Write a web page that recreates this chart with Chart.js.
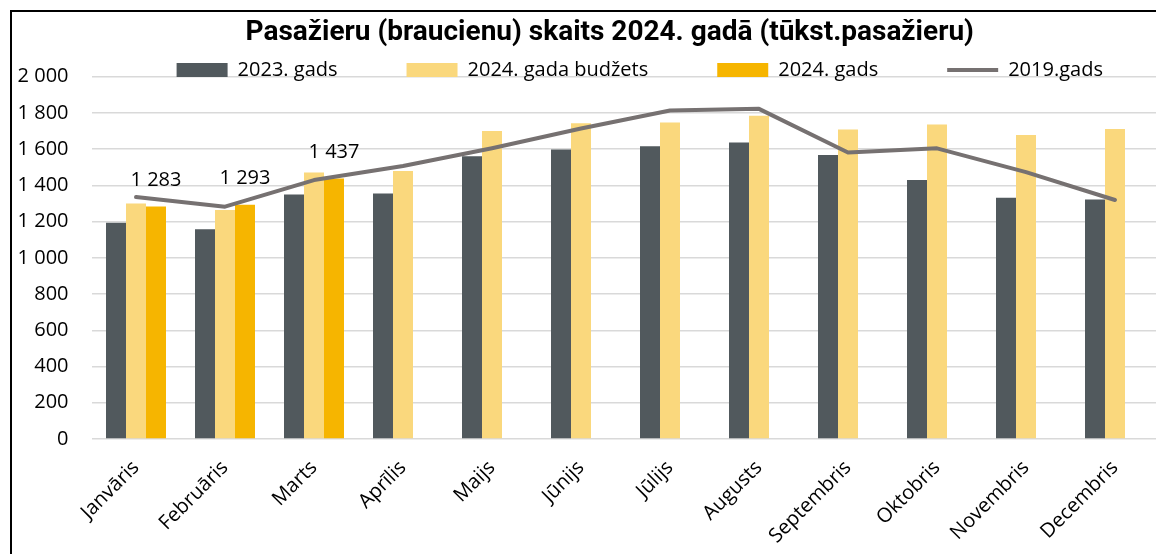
<!DOCTYPE html>
<html>
<head>
<meta charset="utf-8">
<script src="https://cdn.jsdelivr.net/npm/chart.js@4.4.1/dist/chart.umd.min.js"></script>
<style>
html,body{margin:0;padding:0;background:#fff;overflow:hidden}
#wrap{position:absolute;left:0;top:0;width:1160px;height:554px}
</style>
</head>
<body>
<div id="wrap"><canvas id="c"></canvas></div>
<script>
const titleText = 'Pasažieru (braucienu) skaits 2024. gadā (tūkst.pasažieru)';
const months = ['Janvāris','Februāris','Marts','Aprīlis','Maijs','Jūnijs','Jūlijs','Augusts','Septembris','Oktobris','Novembris','Decembris'];
const seriesNames = ['2023. gads','2024. gada budžets','2024. gads','2019.gads'];
const values2023 = [1193, 1158, 1350, 1355, 1560, 1597, 1616, 1637, 1567, 1429, 1331, 1322];
const valuesBudget2024 = [1300, 1264, 1471, 1479, 1700, 1742, 1747, 1784, 1708, 1736, 1678, 1711];
const values2024 = [1283, 1293, 1437, null, null, null, null, null, null, null, null, null];
const values2019 = [1335, 1282, 1429, 1507, 1605, 1714, 1813, 1822, 1581, 1604, 1473, 1319];
const yTicksMin = 0, yTicksMax = 2000, yTicksStep = 200;

const fmt = v => String(v).replace(/\B(?=(\d{3})+(?!\d))/g, ' ');

const framePlugin = {
  id: 'framePlugin',
  beforeDraw(chart) {
    const ctx = chart.ctx;
    ctx.save();
    ctx.fillStyle = '#fff';
    ctx.fillRect(0, 0, chart.width, chart.height);
    ctx.strokeStyle = '#000';
    ctx.lineWidth = 2;
    ctx.beginPath();
    ctx.moveTo(11, chart.height + 5);
    ctx.lineTo(11, 11);
    ctx.lineTo(chart.width + 5, 11);
    ctx.stroke();
    ctx.restore();
  }
};

const shiftPlugin = {
  id: 'shiftPlugin',
  afterLayout(chart) {
    const lg = chart.legend;
    if (lg) {
      const pad = lg.options.labels.padding;
      lg.top = 60 - pad;
      lg.bottom = 92;
      lg.height = lg.bottom - lg.top;
      lg.left += 60; lg.right += 60;
    }
    const tb = chart.titleBlock;
    if (tb) { tb.left += 30; tb.right += 30; }
  }
};

const barLabels = {
  id: 'barLabels',
  afterDatasetsDraw(chart) {
    const ctx = chart.ctx;
    const dsIndex = 2;
    const meta = chart.getDatasetMeta(dsIndex);
    const data = chart.data.datasets[dsIndex].data;
    ctx.save();
    ctx.font = '20px "Open Sans"';
    ctx.fillStyle = '#000';
    ctx.textAlign = 'center';
    ctx.textBaseline = 'middle';
    meta.data.forEach((el, i) => {
      const v = data[i];
      if (v == null) return;
      ctx.fillText(fmt(v), el.x, el.y - 26);
    });
    ctx.restore();
  }
};

new Chart(document.getElementById('c'), {
  type: 'bar',
  data: {
    labels: months,
    datasets: [
      { label: seriesNames[0], data: values2023, backgroundColor: '#51595D', pointStyle: 'rect', order: 1 },
      { label: seriesNames[1], data: valuesBudget2024, backgroundColor: '#FAD87D', pointStyle: 'rect', order: 1 },
      { label: seriesNames[2], data: values2024, backgroundColor: '#F6B500', pointStyle: 'rect', order: 1 },
      { type: 'line', label: seriesNames[3], data: values2019, borderColor: '#767171', backgroundColor: '#767171',
        borderWidth: 4, pointRadius: 0, pointHoverRadius: 0, pointStyle: 'line', borderCapStyle: 'round',
        borderJoinStyle: 'round', tension: 0, order: 0 }
    ]
  },
  options: {
    responsive: true,
    maintainAspectRatio: false,
    animation: false,
    datasets: { bar: { categoryPercentage: 0.674, barPercentage: 1.0 } },
    layout: { padding: { left: 0, right: 0.5, top: 0, bottom: 0 } },
    plugins: {
      tooltip: { enabled: false },
      title: {
        display: true,
        text: titleText,
        color: '#000',
        font: { family: 'Roboto', size: 28, weight: 'bold' },
        padding: { top: 16, bottom: 26 }
      },
      legend: {
        display: true,
        position: 'top',
        maxHeight: 1,
        labels: {
          usePointStyle: true,
          pointStyleWidth: 51,
          boxWidth: 51,
          boxHeight: 14,
          padding: 69,
          color: '#000',
          font: { family: 'Open Sans', size: 20 },
          sort: (a, b) => a.datasetIndex - b.datasetIndex
        }
      }
    },
    scales: {
      x: {
        grid: { display: false },
        border: { display: false },
        ticks: {
          color: '#000',
          font: { family: 'Open Sans', size: 20 },
          minRotation: 45, maxRotation: 45, autoSkip: false, padding: 9
        },
        afterFit(scale) { scale.height = 115; }
      },
      y: {
        min: yTicksMin, max: yTicksMax,
        grid: { color: '#D9D9D9', lineWidth: 1.5, drawTicks: false },
        border: { display: false },
        ticks: {
          stepSize: yTicksStep,
          color: '#000',
          font: { family: 'Open Sans', size: 20 },
          padding: 23,
          callback: v => fmt(v)
        },
        afterFit(scale) { scale.width = 91.5; }
      }
    }
  },
  plugins: [framePlugin, shiftPlugin, barLabels]
});
</script>
</body>
</html>
